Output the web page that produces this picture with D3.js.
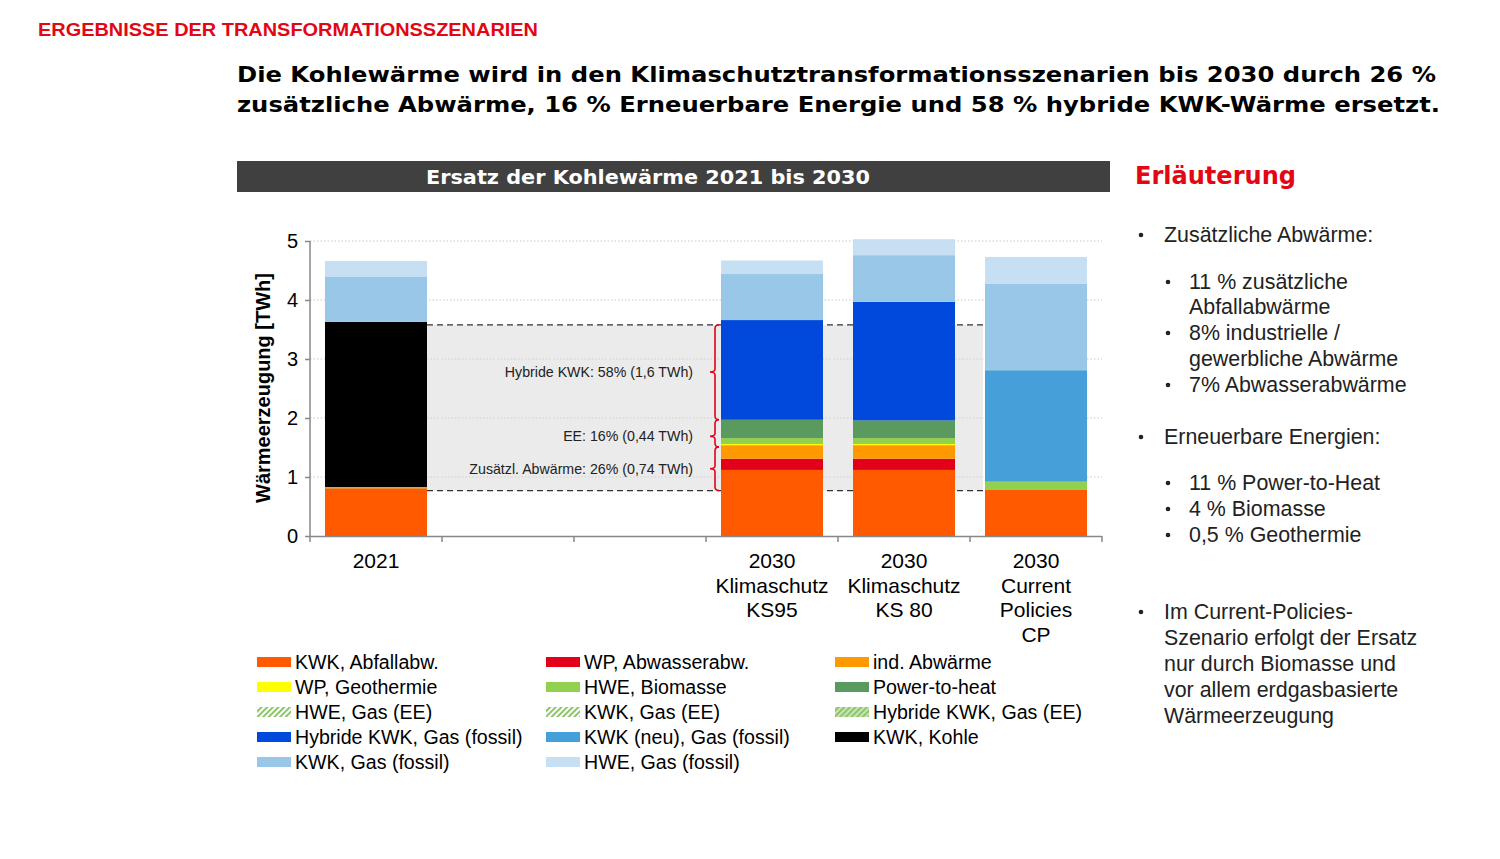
<!DOCTYPE html>
<html><head><meta charset="utf-8">
<script src="https://cdn.jsdelivr.net/npm/d3@7"></script>
<style>body{margin:0;background:#fff}svg{display:block}</style>
</head><body>
<script>
// ---------- DATA ----------
const categoryIds = ["c2021","gap1","gap2","ks95","ks80","cp"];
const categoryLabels = [["2021"],[],[],["2030","Klimaschutz","KS95"],["2030","Klimaschutz","KS 80"],["2030","Current","Policies","CP"]];
const seriesNames = ["KWK, Abfallabw.","WP, Abwasserabw.","ind. Abwärme","WP, Geothermie","HWE, Biomasse","Power-to-heat","HWE, Gas (EE)","KWK, Gas (EE)","Hybride KWK, Gas (EE)","Hybride KWK, Gas (fossil)","KWK (neu), Gas (fossil)","KWK, Kohle","KWK, Gas (fossil)","HWE, Gas (fossil)"];
const seriesColors = ["#ff5a00","#e2001a","#ff9900","#ffff00","#92d050","#5b9a5e","hatch","hatch","hatch2","#0049dc","#459fd9","#000000","#99c7e7","#c6dff2"];
// values per category (TWh), order of seriesNames
const v2021 = [0.81,0,0,0,0.02,0,0,0,0,0,0,2.80,0.76,0.27];
const vGap1 = [0,0,0,0,0,0,0,0,0,0,0,0,0,0];
const vGap2 = [0,0,0,0,0,0,0,0,0,0,0,0,0,0];
const vKS95 = [1.12,0.19,0.23,0.02,0.10,0.31,0,0,0,1.69,0,0,0.78,0.23];
const vKS80 = [1.12,0.19,0.23,0.02,0.10,0.30,0,0,0,2.01,0,0,0.79,0.27];
const vCP   = [0.78,0,0,0,0.14,0,0,0,0,0,1.89,0,1.47,0.45];
const yTicks = [0,1,2,3,4,5];
const bandRange = [0.77,3.58];
const braceSegments = [[0.77,1.51,1.14],[1.51,1.97,1.69],[1.97,3.58,2.78]];
const braceLabels = ["Zusätzl. Abwärme: 26% (0,74 TWh)","EE: 16% (0,44 TWh)","Hybride KWK: 58% (1,6 TWh)"];
const notes = [
 {b:1,t:"Zusätzliche Abwärme:",y:235},
 {b:2,t:"11 % zusätzliche",y:282},{b:0,t:"Abfallabwärme",y:307},
 {b:2,t:"8% industrielle /",y:333},{b:0,t:"gewerbliche Abwärme",y:359},
 {b:2,t:"7% Abwasserabwärme",y:385},
 {b:1,t:"Erneuerbare Energien:",y:437},
 {b:2,t:"11 % Power-to-Heat",y:483},{b:2,t:"4 % Biomasse",y:509},{b:2,t:"0,5 % Geothermie",y:535},
 {b:1,t:"Im Current-Policies-",y:612},{b:3,t:"Szenario erfolgt der Ersatz",y:638},{b:3,t:"nur durch Biomasse und",y:664},{b:3,t:"vor allem erdgasbasierte",y:690},{b:3,t:"Wärmeerzeugung",y:716}
];

const valuesByCat = [v2021,vGap1,vGap2,vKS95,vKS80,vCP];

// ---------- SVG ----------
const W=1500,H=859;
const svg=d3.select("body").append("svg").attr("width",W).attr("height",H);
const defs=svg.append("defs");
function hatch(id,bg){
  const p=defs.append("pattern").attr("id",id).attr("patternUnits","userSpaceOnUse").attr("width",4).attr("height",4).attr("patternTransform","rotate(45)");
  p.append("rect").attr("width",4).attr("height",4).attr("fill",bg);
  p.append("rect").attr("width",2).attr("height",4).attr("fill","#8cc56a");
}
hatch("hatch","#ffffff"); hatch("hatch2","#c9e5b6");
const fillOf=c=>c==="hatch"?"url(#hatch)":c==="hatch2"?"url(#hatch2)":c;

const sans="'Liberation Sans', Arial, sans-serif";
const wide="'DejaVu Sans', Verdana, sans-serif";

// header texts
svg.append("text").attr("x",38).attr("y",36).attr("font-family","'Liberation Sans Narrow','Arial Narrow',"+sans)
  .attr("font-weight","bold").attr("font-size",19).attr("fill","#e30613")
  .attr("textLength",500).attr("lengthAdjust","spacingAndGlyphs").text("ERGEBNISSE DER TRANSFORMATIONSSZENARIEN");
svg.append("text").attr("x",237).attr("y",82).attr("font-family",wide).attr("font-weight","bold").attr("font-size",22)
  .attr("textLength",1199).attr("lengthAdjust","spacingAndGlyphs")
  .text("Die Kohlewärme wird in den Klimaschutztransformationsszenarien bis 2030 durch 26 %");
svg.append("text").attr("x",237).attr("y",112).attr("font-family",wide).attr("font-weight","bold").attr("font-size",22)
  .attr("textLength",1203).attr("lengthAdjust","spacingAndGlyphs")
  .text("zusätzliche Abwärme, 16 % Erneuerbare Energie und 58 % hybride KWK-Wärme ersetzt.");

// chart title bar
svg.append("rect").attr("x",237).attr("y",161).attr("width",873).attr("height",31).attr("fill","#404040");
svg.append("text").attr("x",648).attr("y",184).attr("text-anchor","middle").attr("font-family",wide).attr("font-weight","bold")
  .attr("font-size",19).attr("fill","#fff").attr("textLength",444).attr("lengthAdjust","spacingAndGlyphs")
  .text("Ersatz der Kohlewärme 2021 bis 2030");

// scales
const x=d3.scaleBand().domain(categoryIds).range([310,1102]).paddingInner(30/132).paddingOuter(15/132);
const y=d3.scaleLinear().domain([0,5]).range([536,241]);
const g=svg.append("g");

// gridlines
g.selectAll(".grid").data(yTicks.filter(d=>d>0)).join("line")
  .attr("x1",310).attr("x2",1102).attr("y1",d=>y(d)).attr("y2",d=>y(d))
  .attr("stroke","#c8c8c8").attr("stroke-width",1.2).attr("stroke-dasharray","1.5,2");

// gray band
const bx0=x("c2021")+x.bandwidth(), bx1=x("cp")-2;
g.append("rect").attr("x",bx0).attr("y",y(bandRange[1])).attr("width",bx1-bx0).attr("height",y(bandRange[0])-y(bandRange[1])).attr("fill","#ebebeb");
g.selectAll(".grid2").data(yTicks.filter(d=>d>bandRange[0]&&d<bandRange[1])).join("line")
  .attr("x1",bx0).attr("x2",bx1).attr("y1",d=>y(d)).attr("y2",d=>y(d))
  .attr("stroke","#d0d0d0").attr("stroke-width",1.2).attr("stroke-dasharray","1.5,2");
g.selectAll(".dash").data(bandRange).join("line")
  .attr("x1",bx0).attr("x2",bx1).attr("y1",d=>y(d)).attr("y2",d=>y(d))
  .attr("stroke","#333").attr("stroke-width",1.3).attr("stroke-dasharray","6,4");

// stacked bars
const table=categoryIds.map((id,i)=>{const o={id};seriesNames.forEach((s,j)=>o[s]=valuesByCat[i][j]);return o;});
const stack=d3.stack().keys(seriesNames)(table);
g.selectAll(".layer").data(stack).join("g").attr("fill",(d,i)=>fillOf(seriesColors[i]))
  .selectAll("rect").data(d=>d.filter(e=>e[1]-e[0]>0)).join("rect")
  .attr("x",d=>x(d.data.id)).attr("width",x.bandwidth())
  .attr("y",d=>y(d[1])).attr("height",d=>y(d[0])-y(d[1]));

// braces
const bxX=715;
braceSegments.forEach((s,i)=>{
  const yb=y(s[0]), yt=y(s[1]), ym=y(s[2]);
  const p=`M${bxX+4},${yb} Q${bxX},${yb} ${bxX},${yb-4} L${bxX},${ym+3} Q${bxX},${ym} ${bxX-5},${ym} Q${bxX},${ym} ${bxX},${ym-3} L${bxX},${yt+4} Q${bxX},${yt} ${bxX+4},${yt}`;
  g.append("path").attr("d",p).attr("fill","none").attr("stroke","#e3001b").attr("stroke-width",1.6);
  g.append("text").attr("x",693).attr("y",ym).attr("dy","0.35em").attr("text-anchor","end")
    .attr("font-family",sans).attr("font-size",14.2).attr("fill","#222").text(braceLabels[i]);
});

// axes
const yAxis=d3.axisLeft(y).tickValues(yTicks).tickSize(5).tickFormat(d3.format("d"));
const ya=svg.append("g").attr("transform","translate(310,0)").call(yAxis);
ya.select(".domain").attr("stroke","#888").attr("stroke-width",1.5).attr("d","M0,241V536");
ya.selectAll(".tick line").attr("stroke","#888").attr("stroke-width",1.5);
ya.selectAll(".tick text").attr("font-family",sans).attr("font-size",20).attr("fill","#000").attr("x",-12);

const xEdge=d3.scaleLinear().domain([0,6]).range([310,1102]);
const xa=svg.append("g");
xa.append("line").attr("x1",310).attr("x2",1102).attr("y1",536.5).attr("y2",536.5).attr("stroke","#888").attr("stroke-width",1.5);
xa.selectAll(".xt").data(d3.range(7)).join("line").attr("x1",d=>xEdge(d)).attr("x2",d=>xEdge(d))
  .attr("y1",536).attr("y2",542).attr("stroke","#888").attr("stroke-width",1.5);
categoryIds.forEach((id,i)=>{
  const t=xa.append("text").attr("x",x(id)+x.bandwidth()/2).attr("y",561).attr("dy","0.35em")
    .attr("text-anchor","middle").attr("font-family",sans).attr("font-size",21).attr("fill","#000");
  categoryLabels[i].forEach((l,k)=>t.append("tspan").attr("x",x(id)+x.bandwidth()/2).attr("dy",k===0?"0.35em":"24.5").text(l));
});
svg.append("text").attr("transform","translate(270,388) rotate(-90)").attr("text-anchor","middle")
  .attr("font-family",sans).attr("font-weight","bold").attr("font-size",20).text("Wärmeerzeugung [TWh]");

// legend
const legCols=[257,546,835], legRows=[662,687,712,737,762];
seriesNames.forEach((s,i)=>{
  const cx=legCols[i%3], cy=legRows[Math.floor(i/3)];
  svg.append("rect").attr("x",cx).attr("y",cy-5).attr("width",34).attr("height",10).attr("fill",fillOf(seriesColors[i]));
  svg.append("text").attr("x",cx+38).attr("y",cy).attr("dy","0.35em").attr("font-family",sans).attr("font-size",19.6).text(s);
});

// explanation panel
svg.append("text").attr("x",1135).attr("y",184).attr("font-family",wide).attr("font-weight","bold").attr("font-size",24)
  .attr("fill","#e30613").attr("textLength",161).attr("lengthAdjust","spacingAndGlyphs").text("Erläuterung");
notes.forEach(n=>{
  const tx = n.b===1||n.b===3 ? 1164 : 1189;
  if(n.b===1) svg.append("circle").attr("cx",1141).attr("cy",n.y).attr("r",2.3).attr("fill","#222");
  if(n.b===2) svg.append("circle").attr("cx",1168).attr("cy",n.y).attr("r",2.3).attr("fill","#222");
  svg.append("text").attr("x",tx).attr("y",n.y).attr("dy","0.35em").attr("font-family",sans).attr("font-size",21.4).attr("fill","#222").text(n.t);
});
</script>
</body></html>
